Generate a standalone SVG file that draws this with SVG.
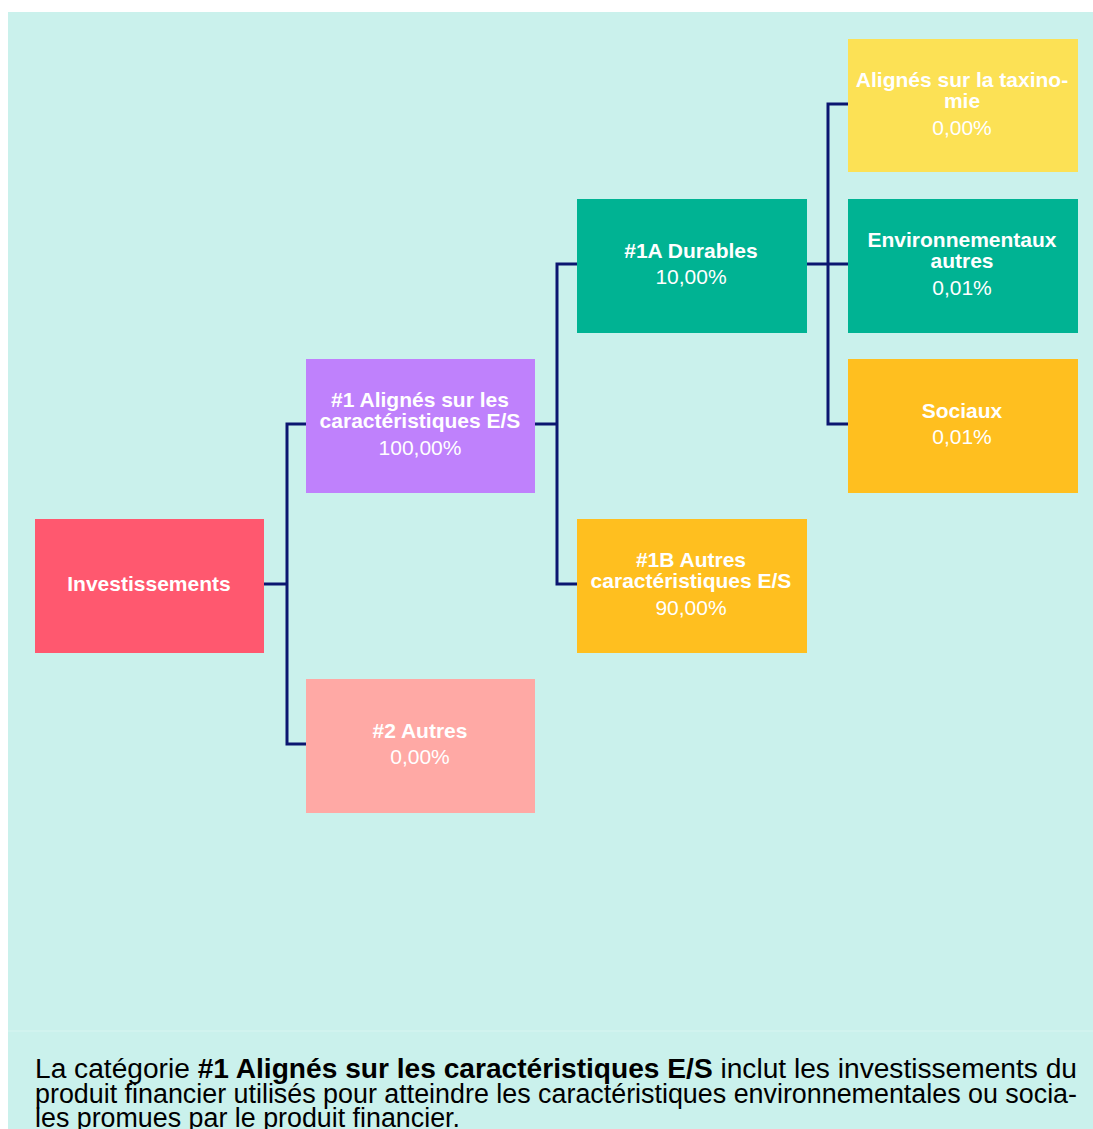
<svg xmlns="http://www.w3.org/2000/svg" width="1093" height="1129" viewBox="0 0 1093 1129">
<style>
.t{font-family:"Liberation Sans",Arial,sans-serif;font-size:21px;fill:#fff;text-anchor:middle}
.b{font-weight:bold}
.c{fill:none;stroke:#0b1670;stroke-width:3}
.p{font-family:"Liberation Sans",Arial,sans-serif;font-size:27px;fill:#000}
</style>
<rect x="0" y="0" width="1093" height="1129" fill="#fff"/>
<rect x="8" y="12" width="1085" height="1117" fill="#caf1ec"/>
<line x1="8" y1="1031" x2="1093" y2="1031" stroke="#d8f5f1" stroke-width="1"/>
<g id="connectors">
<path class="c" d="M263 584H287M306 424H287V744H306"/>
<path class="c" d="M534 424H557M577 264H557V584H577"/>
<path class="c" d="M806 264H848M848 104H828V424H848"/>
</g>
<g id="n-inv"><rect x="35" y="519" width="229" height="134" fill="#ff586f"/><text class="t b" x="149" y="591">Investissements</text></g>
<g id="n-1"><rect x="306" y="359" width="229" height="134" fill="#bf81fc"/><text class="t b" x="420" y="407">#1 Alignés sur les</text><text class="t b" x="420" y="428">caractéristiques E/S</text><text class="t" x="420" y="455">100,00%</text></g>
<g id="n-2"><rect x="306" y="679" width="229" height="134" fill="#ffa9a5"/><text class="t b" x="420" y="738">#2 Autres</text><text class="t" x="420" y="764">0,00%</text></g>
<g id="n-1a"><rect x="577" y="199" width="230" height="134" fill="#00b393"/><text class="t b" x="691" y="258">#1A Durables</text><text class="t" x="691" y="284">10,00%</text></g>
<g id="n-1b"><rect x="577" y="519" width="230" height="134" fill="#ffbf1f"/><text class="t b" x="691" y="567">#1B Autres</text><text class="t b" x="691" y="588">caractéristiques E/S</text><text class="t" x="691" y="615">90,00%</text></g>
<g id="n-tax"><rect x="848" y="39" width="230" height="133" fill="#fce155"/><text class="t b" x="962" y="87">Alignés sur la taxino-</text><text class="t b" x="962" y="108">mie</text><text class="t" x="962" y="135">0,00%</text></g>
<g id="n-env"><rect x="848" y="199" width="230" height="134" fill="#00b393"/><text class="t b" x="962" y="247">Environnementaux</text><text class="t b" x="962" y="268">autres</text><text class="t" x="962" y="295">0,01%</text></g>
<g id="n-soc"><rect x="848" y="359" width="230" height="134" fill="#ffbf1f"/><text class="t b" x="962" y="418">Sociaux</text><text class="t" x="962" y="444">0,01%</text></g>
<g id="caption">
<text class="p" x="35" y="1078" textLength="1042" lengthAdjust="spacingAndGlyphs">La catégorie <tspan font-weight="bold">#1 Alignés sur les caractéristiques E/S</tspan> inclut les investissements du</text>
<text class="p" x="35" y="1103" textLength="1042" lengthAdjust="spacingAndGlyphs">produit financier utilisés pour atteindre les caractéristiques environnementales ou socia-</text>
<text class="p" x="35" y="1127" textLength="425" lengthAdjust="spacingAndGlyphs">les promues par le produit financier.</text>
</g>
</svg>
